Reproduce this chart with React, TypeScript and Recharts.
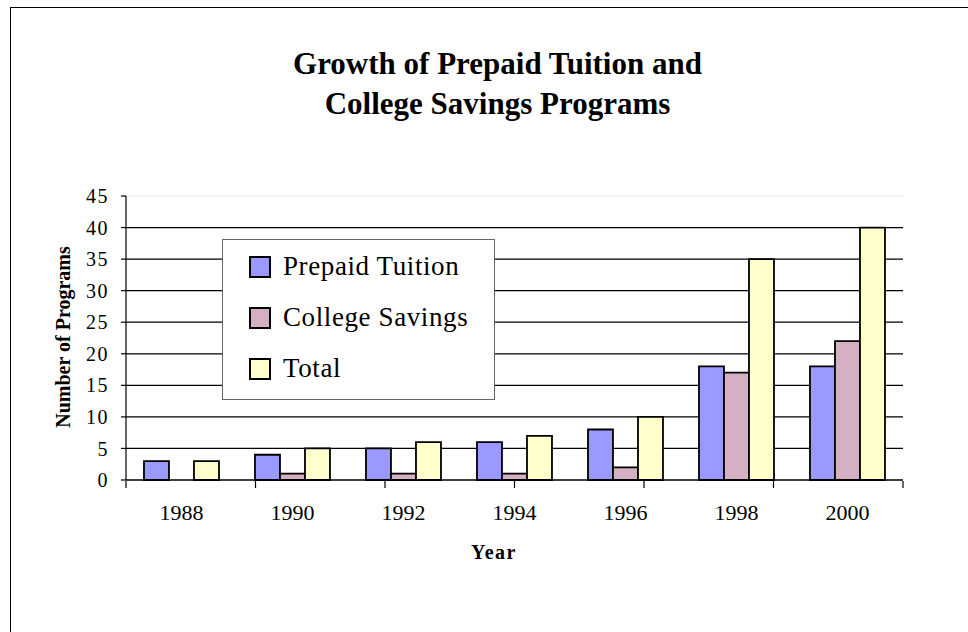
import React from "react";
import {
  ComposedChart,
  Bar,
  XAxis,
  YAxis,
  CartesianGrid,
  ReferenceLine,
} from "recharts";

const years = ["1988", "1990", "1992", "1994", "1996", "1998", "2000"];
const prepaidTuition = [3, 4, 5, 6, 8, 18, 18];
const collegeSavings = [0, 1, 1, 1, 2, 17, 22];
const totals = [3, 5, 6, 7, 10, 35, 40];
const yTicks = [0, 5, 10, 15, 20, 25, 30, 35, 40, 45];
const boundaryTicks = [0, 1, 2, 3, 4, 5, 6, 7];

const data = years.map((year, i) => ({
  year,
  prepaid: prepaidTuition[i],
  savings: collegeSavings[i],
  total: totals[i],
}));

const SERIF = '"Liberation Serif", "Times New Roman", serif';

const series = [
  { key: "prepaid", name: "Prepaid Tuition", color: "#9999FF" },
  { key: "savings", name: "College Savings", color: "#D5AFC3" },
  { key: "total", name: "Total", color: "#FFFFCC" },
];

// legend box drawn over the plot like the Excel original
function LegendBox() {
  return (
    <div
      style={{
        position: "absolute",
        left: 222,
        top: 239,
        width: 273,
        height: 161,
        boxSizing: "border-box",
        border: "1.5px solid #666",
        background: "#fff",
        paddingTop: 1,
        paddingLeft: 26,
        fontFamily: SERIF,
        fontSize: 27,
        color: "#000",
      }}
    >
      {series.map((s) => (
        <div key={s.key} style={{ display: "flex", alignItems: "center", height: 51 }}>
          <span
            style={{
              display: "inline-block",
              boxSizing: "border-box",
              width: 22,
              height: 22,
              background: s.color,
              border: "2px solid #000",
              marginRight: 12,
            }}
          />
          <span style={{ letterSpacing: 0.6 }}>{s.name}</span>
        </div>
      ))}
    </div>
  );
}

export default function App() {
  return (
    <div
      style={{
        position: "absolute",
        left: 0,
        top: 0,
        width: 968,
        height: 632,
        background: "#fff",
        overflow: "hidden",
        fontFamily: SERIF,
      }}
    >
      <div
        style={{
          position: "absolute",
          left: 10,
          top: 7,
          width: 980,
          height: 640,
          borderLeft: "1.5px solid #000",
          borderTop: "1.5px solid #000",
        }}
      />
      <div
        style={{
          position: "absolute",
          left: 0,
          width: 995,
          top: 44,
          textAlign: "center",
          fontWeight: "bold",
          fontSize: 31,
          lineHeight: "40px",
          color: "#000",
        }}
      >
        Growth of Prepaid Tuition and
        <br />
        College Savings Programs
      </div>
      <div
        style={{
          position: "absolute",
          left: 63,
          top: 337,
          transform: "translate(-50%, -50%) rotate(-90deg)",
          whiteSpace: "nowrap",
          fontWeight: "bold",
          fontSize: 20,
          color: "#000",
        }}
      >
        Number of Programs
      </div>
      <div
        style={{
          position: "absolute",
          left: 494,
          top: 552,
          transform: "translate(-50%, -50%)",
          fontWeight: "bold",
          fontSize: 20,
          letterSpacing: 1.5,
          color: "#000",
        }}
      >
        Year
      </div>
      <div style={{ position: "absolute", left: 0, top: 0 }}>
        <ComposedChart
          width={968}
          height={632}
          data={data}
          margin={{ top: 196, right: 65, bottom: 150, left: 66 }}
          barCategoryGap="16.2%"
          barGap={0}
        >
          <CartesianGrid
            horizontal
            vertical={false}
            stroke="#000"
            strokeWidth={1.2}
            horizontalValues={[5, 10, 15, 20, 25, 30, 35, 40]}
          />
          <ReferenceLine y={45} stroke="#e6e6e6" strokeWidth={1} />
          <XAxis
            dataKey="year"
            tickLine={false}
            axisLine={{ stroke: "#000", strokeWidth: 1.5 }}
            tickSize={0}
            tickMargin={24}
            height={1}
            interval={0}
            tick={{ fill: "#000", fontSize: 22, fontFamily: SERIF }}
          />
          {/* tick marks sit between the year groups, so a second numeric axis draws them */}
          <XAxis
            xAxisId="bounds"
            type="number"
            domain={[0, 7]}
            ticks={boundaryTicks}
            interval={0}
            axisLine={false}
            tickLine={{ stroke: "#000", strokeWidth: 1.2 }}
            tickSize={7}
            tick={() => <g />}
            height={1}
            orientation="bottom"
          />
          <YAxis
            domain={[0, 45]}
            ticks={yTicks}
            interval={0}
            width={60}
            tickSize={5}
            tickMargin={12}
            axisLine={{ stroke: "#000", strokeWidth: 1.2 }}
            tickLine={{ stroke: "#000", strokeWidth: 1.2 }}
            tick={{ fill: "#000", fontSize: 20, fontFamily: SERIF, letterSpacing: 1.5 }}
          />
          {series.map((s) => (
            <Bar
              key={s.key}
              dataKey={s.key}
              name={s.name}
              fill={s.color}
              stroke="#000"
              strokeWidth={1.8}
              isAnimationActive={false}
            />
          ))}
        </ComposedChart>
      </div>
      <LegendBox />
    </div>
  );
}
